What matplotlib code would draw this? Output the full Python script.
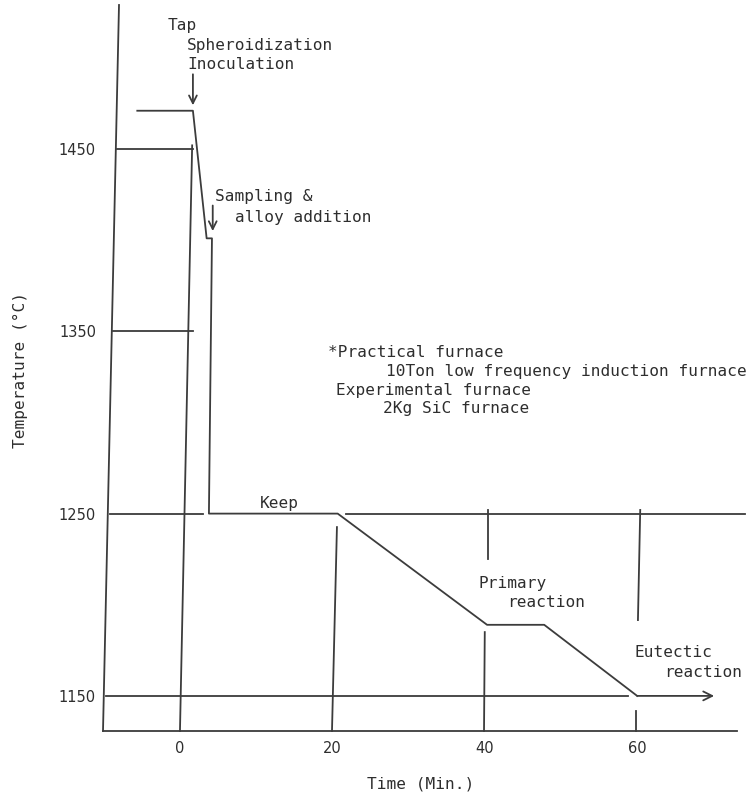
import matplotlib
matplotlib.use("Agg")
import matplotlib.pyplot as plt

# Melt temperature history (time in min, temperature in deg C)
process_time = [-5.6, 1.7, 3.5, 4.2, 3.8, 20.7, 40.3, 47.8, 60.0, 70.1]
process_temp = [1471, 1471, 1401, 1401, 1250, 1250, 1189, 1189, 1150, 1150]

x_ticks = [0, 20, 40, 60]
y_ticks = [1150, 1250, 1350, 1450]

# Reference temperature levels drawn as horizontal guide lines: (level, start, end)
guide_levels = [
    (1450, -8.3, 1.7),
    (1350, -8.8, 1.7),
    (1250, -9.2, 3.0),
    (1250, 21.8, 74.15),
    (1150, -9.7, 58.8),
]

# Time guide lines: ((t_start, t_end), (T_start, T_end))
guide_times = [
    ((0.0, 1.6), (1130.75, 1452)),
    ((19.95, 20.6), (1130.75, 1242.6)),
    ((39.9, 40.0), (1130.75, 1185)),
    ((40.4, 40.4), (1252, 1225)),
    ((59.8, 59.8), (1141.7, 1130.75)),
    ((60.4, 60.1), (1252, 1191.6)),
]

XMIN, XMAX = -10.1, 74.15
YMIN, YMAX = 1130.75, 1529.0

LINE = "#3c3c3c"
TXT = "#2e2e2e"
MONO = "DejaVu Sans Mono"
FS = 11.6
LW = 1.3

fig = plt.figure(figsize=(7.5, 7.99), dpi=100)
ax = fig.add_axes([103 / 750, 68 / 799, 642 / 750, 726 / 799])
ax.set_xlim(XMIN, XMAX)
ax.set_ylim(YMIN, YMAX)
for s in ax.spines.values():
    s.set_visible(False)

# Axes frame: slightly leaning temperature axis and the time axis
ax.plot([-8.0, XMIN], [YMAX, YMIN], color=LINE, lw=LW, clip_on=False)
ax.plot([XMIN, 73.1], [YMIN, YMIN], color=LINE, lw=LW, clip_on=False)

for level, t0, t1 in guide_levels:
    ax.plot([t0, t1], [level, level], color=LINE, lw=LW, clip_on=False)
for (t0, t1), (T0, T1) in guide_times:
    ax.plot([t0, t1], [T0, T1], color=LINE, lw=LW, clip_on=False)

# Temperature course
ax.plot(process_time[:-1], process_temp[:-1], color=LINE, lw=LW, clip_on=False)
ax.annotate("", xy=(process_time[-1], process_temp[-1]),
            xytext=(process_time[-2], process_temp[-2]),
            arrowprops=dict(arrowstyle="->", color=LINE, lw=LW,
                            shrinkA=0, shrinkB=0, mutation_scale=16))

# Event markers
ax.annotate("", xy=(1.7, 1474), xytext=(1.7, 1491),
            arrowprops=dict(arrowstyle="->", color=LINE, lw=LW,
                            shrinkA=0, shrinkB=0, mutation_scale=14))
ax.annotate("", xy=(4.3, 1405), xytext=(4.3, 1419),
            arrowprops=dict(arrowstyle="->", color=LINE, lw=LW,
                            shrinkA=0, shrinkB=0, mutation_scale=14))

labels = [
    (-1.57, 1518, "Tap"),
    (0.92, 1507, "Spheroidization"),
    (0.92, 1496.6, "Inoculation"),
    (4.6, 1423.7, "Sampling &"),
    (7.2, 1412.7, "alloy addition"),
    (19.4, 1338.6, "*Practical furnace"),
    (27.0, 1327.7, "10Ton low frequency induction furnace"),
    (20.5, 1317.8, "Experimental furnace"),
    (26.6, 1307.4, "2Kg SiC furnace"),
    (10.5, 1255.3, "Keep"),
    (39.2, 1211.9, "Primary"),
    (42.9, 1201.5, "reaction"),
    (59.7, 1174.0, "Eutectic"),
    (63.6, 1163.0, "reaction"),
]
for t, T, s in labels:
    ax.text(t, T, s, family=MONO, fontsize=FS, color=TXT,
            ha="left", va="center", clip_on=False)

ax.set_xticks(x_ticks)
ax.set_yticks(y_ticks)
ax.set_xticklabels([str(v) for v in x_ticks])
ax.set_yticklabels([str(v) for v in y_ticks])
ax.tick_params(axis="both", length=0, labelsize=10.5, labelcolor=TXT)
ax.tick_params(axis="x", pad=7)
ax.tick_params(axis="y", pad=5)

ax.set_xlabel("Time (Min.)", family=MONO, fontsize=FS, color=TXT)
ax.xaxis.set_label_coords(0.494, -0.063)
ax.set_ylabel("Temperature (\u00b0C)", family=MONO, fontsize=FS, color=TXT)
ax.yaxis.set_label_coords(-0.117, 0.497)

fig.savefig("out.png", dpi=100, facecolor="white")
